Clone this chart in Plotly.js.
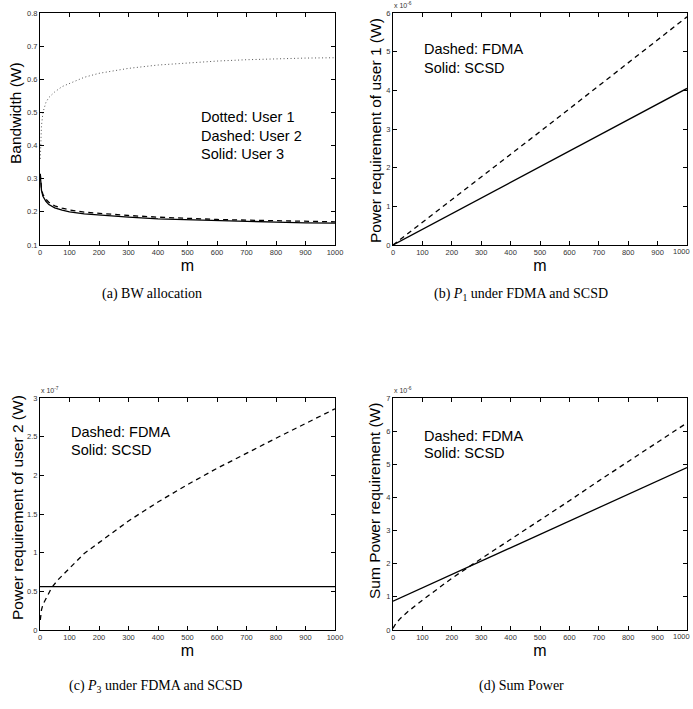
<!DOCTYPE html>
<html>
<head>
<meta charset="utf-8">
<script src="https://cdn.plot.ly/plotly-3.0.1.min.js"></script>
<style>
html,body{margin:0;padding:0;overflow:hidden;background:#fff;}
#chart{width:693px;height:709px;}
</style>
</head>
<body>
<div id="chart"></div>
<script>
// (a) Bandwidth allocation
const mA = [1, 2, 5, 10, 20, 30, 50, 75, 100, 150, 200, 300, 400, 500, 600, 700, 800, 900, 1000];
const bwUser1 = [0.36, 0.40, 0.46, 0.50, 0.53, 0.545, 0.562, 0.578, 0.588, 0.606, 0.618, 0.633, 0.643, 0.650, 0.655, 0.659, 0.662, 0.664, 0.665];
const bwUser2 = [0.315, 0.295, 0.27, 0.252, 0.238, 0.229, 0.218, 0.211, 0.206, 0.199, 0.195, 0.189, 0.184, 0.180, 0.177, 0.175, 0.173, 0.171, 0.170];
const bwUser3 = [0.31, 0.29, 0.265, 0.247, 0.232, 0.222, 0.212, 0.205, 0.200, 0.194, 0.190, 0.184, 0.179, 0.176, 0.173, 0.171, 0.169, 0.167, 0.166];

// (b) P1 (x 1e-6)
const mB = [0, 500, 1000];
const p1Fdma = [0.0, 2.93, 5.9];
const p1Scsd = [0.0, 2.02, 4.05];

// (c) P3 / user 2 power (x 1e-7)
const mC = [1, 5, 10, 20, 40, 60, 100, 150, 200, 300, 400, 500, 600, 700, 800, 900, 1000];
const p2Fdma = [0.13, 0.26, 0.33, 0.41, 0.55, 0.645, 0.80, 0.99, 1.13, 1.41, 1.655, 1.88, 2.09, 2.29, 2.48, 2.67, 2.86];
const mC2 = [0, 1000];
const p2Scsd = [0.56, 0.56];

// (d) Sum power (x 1e-6)
const mD = [0, 10, 25, 50, 100, 150, 200, 262, 300, 400, 500, 600, 700, 800, 900, 1000];
const sumFdma = [0.05, 0.2, 0.35, 0.55, 0.9, 1.24, 1.56, 1.93, 2.15, 2.75, 3.33, 3.9, 4.5, 5.08, 5.66, 6.25];
const mD2 = [0, 500, 1000];
const sumScsd = [0.87, 2.88, 4.9];

const W = 693, H = 709;
const px = v => v / W;
const py = v => 1 - v / H;

const sans = 'Liberation Sans, Arial, sans-serif';
const serif = 'Liberation Serif, Times New Roman, serif';

const dashStyle = {color: '#000', width: 1.3, dash: '5px,4px'};
const solidStyle = {color: '#000', width: 1.3};
const dotStyle = {color: '#555', width: 1, dash: '1px,2.5px'};

const data = [
  {x: mA, y: bwUser1, xaxis: 'x', yaxis: 'y', mode: 'lines', line: dotStyle, name: 'User 1'},
  {x: mA, y: bwUser2, xaxis: 'x', yaxis: 'y', mode: 'lines', line: dashStyle, name: 'User 2'},
  {x: mA, y: bwUser3, xaxis: 'x', yaxis: 'y', mode: 'lines', line: solidStyle, name: 'User 3'},
  {x: mB, y: p1Fdma, xaxis: 'x2', yaxis: 'y2', mode: 'lines', line: dashStyle, name: 'FDMA'},
  {x: mB, y: p1Scsd, xaxis: 'x2', yaxis: 'y2', mode: 'lines', line: solidStyle, name: 'SCSD'},
  {x: mC, y: p2Fdma, xaxis: 'x3', yaxis: 'y3', mode: 'lines', line: dashStyle, name: 'FDMA'},
  {x: mC2, y: p2Scsd, xaxis: 'x3', yaxis: 'y3', mode: 'lines', line: solidStyle, name: 'SCSD'},
  {x: mD, y: sumFdma, xaxis: 'x4', yaxis: 'y4', mode: 'lines', line: dashStyle, name: 'FDMA'},
  {x: mD2, y: sumScsd, xaxis: 'x4', yaxis: 'y4', mode: 'lines', line: solidStyle, name: 'SCSD'}
];

const tickFont = {family: sans, size: 7.5, color: '#333'};
const axBase = {
  showline: true, mirror: 'ticks', ticks: 'inside', ticklen: 4, tickwidth: 1,
  linecolor: '#000', linewidth: 1, tickcolor: '#000', showgrid: false, zeroline: false,
  tickfont: tickFont, automargin: false, fixedrange: true
};
const xAx = (dom, anchor) => Object.assign({}, axBase, {
  domain: dom, anchor: anchor, range: [0, 1000], dtick: 100, tick0: 0,
  title: {text: 'm', font: {family: sans, size: 16, color: '#000'}, standoff: 2}
});
const yAx = (dom, anchor, r, dt, fmt) => Object.assign({}, axBase, {domain: dom, anchor: anchor, range: r, dtick: dt, tick0: 0, tickformat: fmt || ''});

const leftX = [px(40), px(335)];
const rightX = [px(393), px(687)];
const topY = [py(245), py(13)];
const botY = [py(630), py(398)];

const ann = [];
function txt(text, x, y, size, opts) {
  ann.push(Object.assign({text: text, x: px(x), y: py(y), xref: 'paper', yref: 'paper', showarrow: false,
    font: {family: sans, size: size, color: '#000'}, xanchor: 'center', yanchor: 'middle'}, opts || {}));
}
// y titles
txt('Bandwidth (W)', 16, 113, 15.5, {textangle: -90});
txt('Power requirement of user 1 (W)', 376, 131, 15.5, {textangle: -90});
txt('Power requirement of user 2 (W)', 17, 508, 15.5, {textangle: -90});
txt('Sum Power requirement (W)', 374, 501, 15.5, {textangle: -90});
// exponents
const expFont = {family: sans, size: 7, color: '#333'};
txt('x 10<sup>-6</sup>', 392, 5, 7, {xanchor: 'left', font: expFont});
txt('x 10<sup>-7</sup>', 39, 390, 7, {xanchor: 'left', font: expFont});
txt('x 10<sup>-6</sup>', 392, 390, 7, {xanchor: 'left', font: expFont});
// last x tick label of right panels, kept inside the page edge
txt('1000', 692, 251, 7.5, {xanchor: 'right', font: tickFont});
txt('1000', 692, 636, 7.5, {xanchor: 'right', font: tickFont});
// in-plot legends
txt('Dotted: User 1', 199, 117, 14.5, {xanchor: 'left'});
txt('Dashed: User 2', 199, 136, 14.5, {xanchor: 'left'});
txt('Solid: User 3', 199, 154, 14.5, {xanchor: 'left'});
txt('Dashed: FDMA', 422, 49, 14.5, {xanchor: 'left'});
txt('Solid: SCSD', 422, 68, 14.5, {xanchor: 'left'});
txt('Dashed: FDMA', 69, 432, 14.5, {xanchor: 'left'});
txt('Solid: SCSD', 69, 450, 14.5, {xanchor: 'left'});
txt('Dashed: FDMA', 422, 436, 14.5, {xanchor: 'left'});
txt('Solid: SCSD', 422, 453, 14.5, {xanchor: 'left'});
// captions
const capFont = {family: serif, size: 14, color: '#000'};
txt('(a) BW allocation', 152, 294, 14, {font: capFont});
txt('(b) <i>P</i><sub>1</sub> under FDMA and SCSD', 521, 294, 14, {font: capFont});
txt('(c) <i>P</i><sub>3</sub> under FDMA and SCSD', 155, 686, 14, {font: capFont});
txt('(d) Sum Power', 521, 686, 14, {font: capFont});

const layout = {
  width: W, height: H,
  margin: {l: 0, r: 0, t: 0, b: 0},
  paper_bgcolor: '#fff', plot_bgcolor: '#fff',
  showlegend: false,
  xaxis: xAx(leftX, 'y'),
  yaxis: yAx(topY, 'x', [0.1, 0.8], 0.1, '.1f'),
  xaxis2: xAx(rightX, 'y2'),
  yaxis2: yAx(topY, 'x2', [0, 6], 1),
  xaxis3: xAx(leftX, 'y3'),
  yaxis3: yAx(botY, 'x3', [0, 3], 0.5),
  xaxis4: xAx(rightX, 'y4'),
  yaxis4: yAx(botY, 'x4', [0, 7], 1),
  annotations: ann
};

Plotly.newPlot('chart', data, layout, {displayModeBar: false, staticPlot: true});
</script>
</body>
</html>
